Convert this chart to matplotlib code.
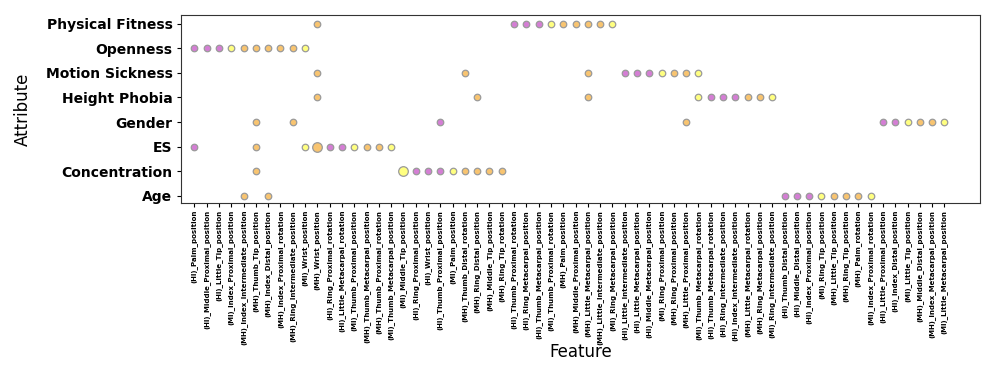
import matplotlib
matplotlib.use("Agg")
import matplotlib.pyplot as plt

features = [
    "(HI)_Palm_position", "(HI)_Middle_Proximal_position", "(HI)_Little_Tip_position",
    "(MI)_Index_Proximal_position", "(MH)_Index_Intermediate_position", "(MH)_Thumb_Tip_position",
    "(MH)_Index_Distal_position", "(MH)_Index_Proximal_rotation", "(MH)_Ring_Intermediate_position",
    "(MI)_Wrist_position", "(MH)_Wrist_position", "(HI)_Ring_Proximal_rotation",
    "(HI)_Little_Metacarpal_rotation", "(MI)_Thumb_Proximal_position", "(MH)_Thumb_Metacarpal_position",
    "(MH)_Thumb_Proximal_rotation", "(MI)_Thumb_Metacarpal_position", "(MI)_Middle_Tip_position",
    "(HI)_Ring_Proximal_position", "(HI)_Wrist_position", "(HI)_Thumb_Proximal_position",
    "(MI)_Palm_position", "(MH)_Thumb_Distal_rotation", "(MH)_Ring_Distal_position",
    "(MH)_Middle_Tip_position", "(MH)_Ring_Tip_rotation", "(HI)_Thumb_Proximal_rotation",
    "(HI)_Ring_Metacarpal_position", "(HI)_Thumb_Metacarpal_position", "(MI)_Thumb_Proximal_rotation",
    "(MH)_Palm_position", "(MH)_Middle_Proximal_position", "(MH)_Little_Metacarpal_position",
    "(MH)_Little_Intermediate_position", "(MI)_Ring_Metacarpal_position", "(HI)_Little_Intermediate_position",
    "(HI)_Little_Metacarpal_position", "(HI)_Middle_Metacarpal_position", "(MI)_Ring_Proximal_position",
    "(MH)_Ring_Proximal_position", "(MH)_Little_Proximal_position", "(MI)_Thumb_Metacarpal_rotation",
    "(HI)_Thumb_Metacarpal_rotation", "(HI)_Ring_Intermediate_position", "(HI)_Index_Intermediate_position",
    "(MH)_Little_Metacarpal_rotation", "(MH)_Ring_Metacarpal_position", "(MI)_Ring_Intermediate_position",
    "(HI)_Thumb_Distal_position", "(HI)_Middle_Distal_position", "(HI)_Index_Proximal_position",
    "(MI)_Ring_Tip_position", "(MH)_Little_Tip_position", "(MH)_Ring_Tip_position",
    "(MH)_Palm_rotation", "(MI)_Index_Proximal_rotation", "(HI)_Little_Proximal_position",
    "(HI)_Index_Distal_position", "(MI)_Little_Tip_position", "(MH)_Middle_Distal_position",
    "(MH)_Index_Metacarpal_position", "(MI)_Little_Metacarpal_position",
]

attributes = ["Age", "Concentration", "ES", "Gender", "Height Phobia",
              "Motion Sickness", "Openness", "Physical Fitness"]

# selected feature indices (0-based) per attribute
age_feats = [4, 6, 48, 49, 50, 51, 52, 53, 54, 55]
concentration_feats = [5, 17, 18, 19, 20, 21, 22, 23, 24, 25]
es_feats = [0, 5, 9, 10, 11, 12, 13, 14, 15, 16]
gender_feats = [5, 8, 20, 40, 56, 57, 58, 59, 60, 61]
height_phobia_feats = [10, 23, 32, 41, 42, 43, 44, 45, 46, 47]
motion_sickness_feats = [10, 22, 32, 35, 36, 37, 38, 39, 40, 41]
openness_feats = [0, 1, 2, 3, 4, 5, 6, 7, 8, 9]
physical_fitness_feats = [10, 26, 27, 28, 29, 30, 31, 32, 33, 34]

selected = {
    "Age": age_feats,
    "Concentration": concentration_feats,
    "ES": es_feats,
    "Gender": gender_feats,
    "Height Phobia": height_phobia_feats,
    "Motion Sickness": motion_sickness_feats,
    "Openness": openness_feats,
    "Physical Fitness": physical_fitness_feats,
}

# highlighted (larger) points: (attribute, feature index)
highlighted = [("ES", 10), ("Concentration", 17)]

colors = {"HI": "#d47ed4", "MI": "#ffff80", "MH": "#f8c470"}

fig = plt.figure(figsize=(9.97, 3.71), dpi=100)
ax = fig.add_axes([0.182, 0.453, 0.801, 0.507])

for yi, attr in enumerate(attributes):
    for fi in selected[attr]:
        prefix = features[fi][1:3]
        big = (attr, fi) in highlighted
        ax.scatter(fi, yi, s=48 if big else 22, c=colors[prefix],
                   edgecolors="#9a9a9a", linewidths=0.9, zorder=3)

ax.set_xticks(range(len(features)))
ax.set_xticklabels(features, rotation=90, fontsize=5, fontweight="bold")
ax.set_yticks(range(len(attributes)))
ax.set_yticklabels(attributes, fontsize=10, fontweight="bold")
ax.set_xlim(-1.05, 63.9)
ax.set_ylim(-0.3, 7.37)
ax.tick_params(axis="x", length=3, width=0.8, pad=2)
ax.tick_params(axis="y", length=3, width=0.8)
ax.set_xlabel("Feature", fontsize=12, labelpad=-2)
ax.set_ylabel("Attribute", fontsize=12, labelpad=10)
for s in ax.spines.values():
    s.set_color("#333333")

fig.savefig("out.png", dpi=100)
